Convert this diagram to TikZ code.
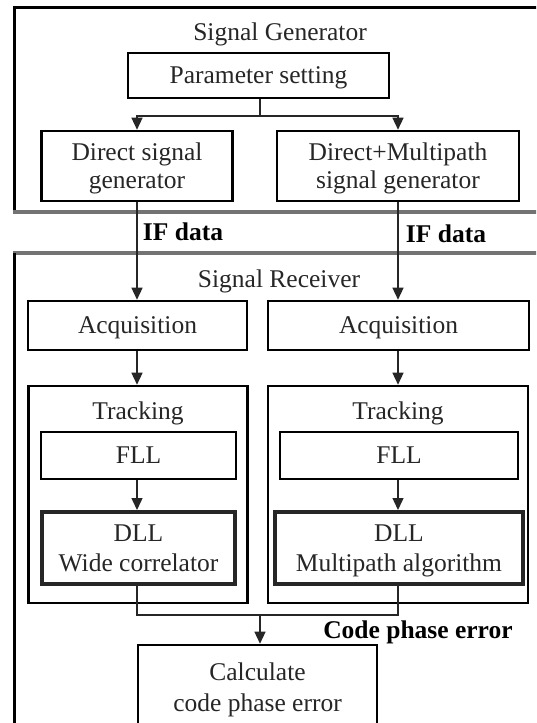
\documentclass[tikz,border=0pt]{standalone}
\usepackage{fontspec}
\setmainfont{Liberation Serif}
\usetikzlibrary{arrows.meta}
\begin{document}
\begin{tikzpicture}[x=0.5pt,y=-0.5pt,
  every node/.style={font=\fontsize{12.75}{14}\selectfont, text=black!85, align=center, inner sep=0pt, text depth=0pt},
  box/.style={draw=black, line width=1.3pt},
  dllbox/.style={draw=black!85, line width=2pt, font=\fontsize{12.75}{15}\selectfont},
  conn/.style={draw=black!85, line width=0.7pt},
  arr/.style={conn, -{Triangle[length=6pt,width=5.5pt]}},
  sep/.style={draw=black!55, line width=2.2pt},
  frame/.style={draw=black, line width=1.5pt},
  lbl/.style={font=\fontsize{12.75}{14}\selectfont\bfseries, text=black}]
\useasboundingbox (0,0) rectangle (536,723);
\clip (0,0) rectangle (536,723);
\fill[white] (0,0) rectangle (536,723);

% frames
\draw[frame] (14,212) -- (14,7) -- (540,7);
\draw[sep] (13,212) -- (540,212);
\draw[sep] (13,253) -- (540,253);
\draw[frame] (14,253) -- (14,730);

% generator
\node (sg) at (280,32) {Signal Generator};
\node[box, minimum width=130.5pt, minimum height=22.5pt] (param) at (258.5,75.5) {Parameter setting};
\node[box, minimum width=95.5pt, minimum height=35pt] (dsg) at (137,166) {Direct signal\\generator};
\node[box, minimum width=121pt, minimum height=35pt] (dmg) at (398,166) {Direct+Multipath\\signal generator};
\coordinate (j) at (260,116);
\draw[conn] (param.south -| j) -- (j);
\draw[arr] (j) -| (dsg.north);
\draw[arr] (j) -| (dmg.north);

% IF data
\node[lbl] (if1) at (183,232) {IF data};
\node[lbl] (if2) at (446,233.5) {IF data};

% receiver
\node (sr) at (279,279) {Signal Receiver};
\node[box, minimum width=109.5pt, minimum height=24.5pt] (acq1) at (137.5,325.5) {Acquisition};
\node[box, minimum width=130.5pt, minimum height=24.5pt] (acq2) at (398.5,325.5) {Acquisition};
\draw[arr] (dsg.south) -- (dsg.south |- acq1.north);
\draw[arr] (dmg.south) -- (dmg.south |- acq2.north);

\node[box, minimum width=109.5pt, minimum height=108.5pt] (trk1) at (138,494.5) {};
\node[box, minimum width=130pt, minimum height=108.5pt] (trk2) at (398,494.5) {};
\node (t1) at (138,410.5) {Tracking};
\node (t2) at (398,410.5) {Tracking};
\draw[arr] (dsg.south |- acq1.south) -- (dsg.south |- trk1.north);
\draw[arr] (dmg.south |- acq2.south) -- (dmg.south |- trk2.north);

\node[box, minimum width=97.5pt, minimum height=23.5pt] (fll1) at (138.5,455.5) {FLL};
\node[box, minimum width=119pt, minimum height=23.5pt] (fll2) at (399,455.5) {FLL};
\node[dllbox, minimum width=96.5pt, minimum height=36pt] (dll1) at (138.5,548) {DLL\\Wide correlator};
\node[dllbox, minimum width=124pt, minimum height=36pt] (dll2) at (399,548) {DLL\\Multipath algorithm};
\draw[arr] (dsg.south |- fll1.south) -- (dsg.south |- dll1.north);
\draw[arr] (dmg.south |- fll2.south) -- (dmg.south |- dll2.north);

% merge
\node[box, minimum width=119.5pt, minimum height=42pt, font=\fontsize{12.75}{15.5}\selectfont] (calc) at (257.5,687) {Calculate\\code phase error};
\coordinate (m) at (260,615);
\draw[conn] (dsg.south |- dll1.south) |- (m);
\draw[conn] (dmg.south |- dll2.south) |- (m);
\draw[arr] (m) -- (m |- calc.north);
\node[lbl] (cpe) at (418,629.5) {Code phase error};
\end{tikzpicture}
\end{document}
